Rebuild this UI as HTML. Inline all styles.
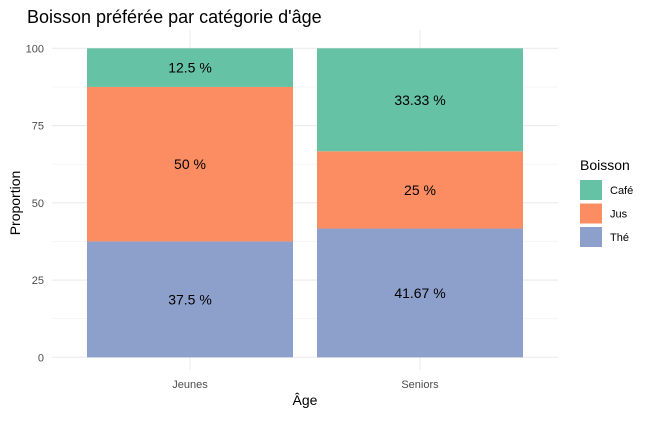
<!DOCTYPE html>
<html><head><meta charset="utf-8"><style>
body{margin:0;background:#fff;font-family:"Liberation Sans",sans-serif;}
</style></head><body>
<svg width="651" height="417" xmlns="http://www.w3.org/2000/svg" font-family="Liberation Sans, sans-serif">
<g id="grid"></g><g id="bars"></g><g id="labels"></g><g id="axes"></g>
<text x="27" y="23" font-size="18" fill="#000">Boisson préférée par catégorie d'âge</text>
<text x="305" y="405" font-size="14" text-anchor="middle" fill="#000">Âge</text>
<text transform="translate(20,203) rotate(-90)" font-size="14" text-anchor="middle" fill="#000">Proportion</text>
<g id="legend"></g>
</svg>
<script>
const categories=["Jeunes","Seniors"];
const series=["Thé","Jus","Café"];
const the=[37.5,41.67];
const jus=[50,25];
const cafe=[12.5,33.33];
const labelsThe=["37.5 %","41.67 %"];
const labelsJus=["50 %","25 %"];
const labelsCafe=["12.5 %","33.33 %"];
const yTicks=[0,25,50,75,100];
const colors={"Thé":"#8da0cb","Jus":"#fc8d62","Café":"#66c2a5"};
const NS="http://www.w3.org/2000/svg";
const y=v=>357.3-v*3.09;
const xc=i=>190+i*230;
const bw=206;
function mk(t,a,p){const e=document.createElementNS(NS,t);for(const k in a)e.setAttribute(k,a[k]);document.getElementById(p).appendChild(e);return e;}
[12.5,37.5,62.5,87.5].forEach(v=>{const l=mk("line",{x1:52,x2:558,y1:y(v),y2:y(v),stroke:"#f0f0f0","stroke-width":0.6},"grid");

});
yTicks.forEach(v=>{const l=mk("line",{x1:52,x2:558,y1:y(v),y2:y(v),stroke:"#ebebeb","stroke-width":1.1},"grid");


const t=mk("text",{x:44,y:y(v)+4,"font-size":11,"text-anchor":"end",fill:"#4d4d4d"},"axes");t.textContent=v;

});
categories.forEach((c,i)=>{const l=mk("line",{x1:xc(i),x2:xc(i),y1:30,y2:370,stroke:"#ebebeb","stroke-width":1.1},"grid");


const t=mk("text",{x:xc(i),y:388,"font-size":11,"text-anchor":"middle",fill:"#4d4d4d"},"axes");t.textContent=c;


const vals=[the[i],jus[i],cafe[i]],labs=[labelsThe[i],labelsJus[i],labelsCafe[i]];let base=0;
vals.forEach((v,j)=>{const r=mk("rect",{x:xc(i)-bw/2,y:y(base+v),width:bw,height:y(base)-y(base+v),fill:colors[series[j]]},"bars");


const tx=mk("text",{x:xc(i),y:y(base+v/2)+5,"font-size":14,"text-anchor":"middle",fill:"#000"},"labels");tx.textContent=labs[j];


base+=v;});});
const lt=mk("text",{x:580,y:170,"font-size":14,fill:"#000"},"legend");lt.textContent="Boisson";


["Café","Jus","Thé"].forEach((s,k)=>{const r=mk("rect",{x:580,y:180+k*23.5,width:22,height:20,fill:colors[s]},"legend");


const t=mk("text",{x:610,y:194+k*23.5,"font-size":11,fill:"#000"},"legend");t.textContent=s;

});
</script>
</body></html>
